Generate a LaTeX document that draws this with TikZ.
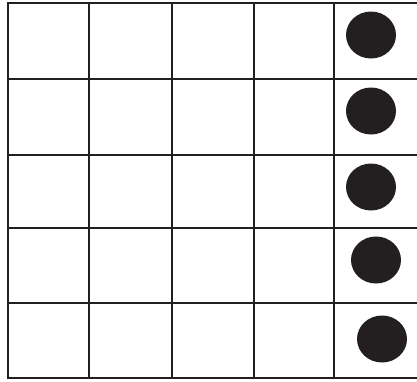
\documentclass[tikz,border=0pt]{standalone}
\definecolor{ink}{HTML}{231F20}
\begin{document}
\begin{tikzpicture}[x=1pt,y=-1pt,line width=2.6pt,line cap=rect]
  \useasboundingbox (0,0) rectangle (417,381);
  \foreach \x in {8,89,172,254,334} {\draw[ink] (\x,3)--(\x,378);}
  \foreach \y in {3,79,155,228,303,378} {\draw[ink] (8,\y)--(420,\y);}
  \foreach \x/\y in {371/35,371/111,371/187,376/260,382/339} {\fill[ink] (\x,\y) ellipse [x radius=25pt, y radius=23.5pt];}
\end{tikzpicture}
\end{document}
